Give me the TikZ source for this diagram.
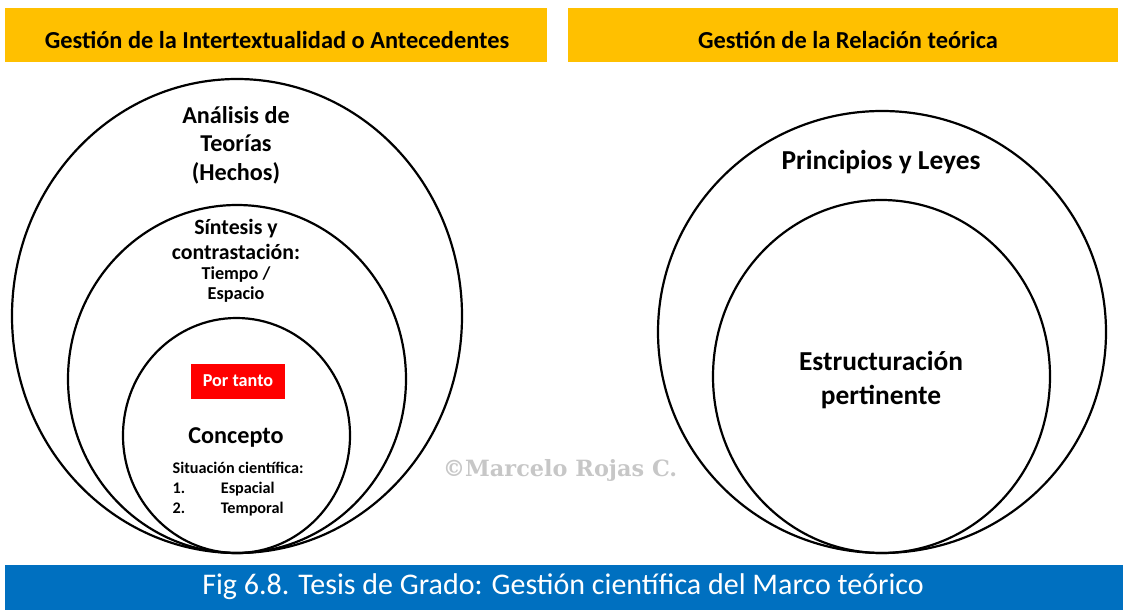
\documentclass[tikz,border=0pt]{standalone}
\usepackage{fontspec}
\setmainfont{Carlito}
\newfontfamily\wmfont{DejaVu Serif}
\usepackage{xcolor}
\usepackage{tikz}
\usetikzlibrary{positioning}

\definecolor{balkengelb}{HTML}{FFC000}
\definecolor{balkenblau}{HTML}{0070C0}
\definecolor{kastenrot}{HTML}{FF0000}

\begin{document}
\begin{tikzpicture}[x=0.5pt, y=-0.5pt, line width=1pt,
    kreis/.style={draw=black, line width=1.1pt},
    gross/.style={font=\bfseries\fontsize{12.1}{14.3}\selectfont, align=center},
    riesig/.style={font=\bfseries\fontsize{13.7}{17}\selectfont, align=center},
    mittel/.style={font=\bfseries\fontsize{10.9}{12.5}\selectfont, align=center},
    klein/.style={font=\bfseries\fontsize{9.1}{10}\selectfont, align=center},
    titel/.style={font=\bfseries\fontsize{12.2}{14}\selectfont}]
\useasboundingbox (0,0) rectangle (1123,610);

% Balken oben
\fill[balkengelb] (5,8) rectangle (547,62);
\fill[balkengelb] (568,8) rectangle (1118,62);
\node[titel] (kopfL) at (277,40) {Gestión de la Intertextualidad o Antecedentes};
\node[titel] (kopfR) at (848,40) {Gestión de la Relación teórica};

% Balken unten
\fill[balkenblau] (5,565) rectangle (1123,610);
\node[text=white, font=\fontsize{15}{18}\selectfont] (fig) at (563,587)
    {Fig 6.8. Tesis de Grado: Gestión científica del Marco teórico};

% Kreise links
\draw[kreis] (237,316) ellipse (225 and 237);
\draw[kreis] (237,379) ellipse (169 and 174);
\draw[kreis] (236.5,435.5) ellipse (113.5 and 117.5);

% Kreise rechts
\draw[kreis] (882,332) ellipse (224 and 221);
\draw[kreis] (881.5,376.5) ellipse (168.5 and 176.5);

% Beschriftungen links
\node[gross] (analisis) at (236,145) {Análisis de\\Teorías\\(Hechos)};
\node[mittel] (sintesis) at (236,239) {Síntesis y\\contrastación:};
\node[klein] (tiempo) at (236,285) {Tiempo /\\Espacio};
\node[fill=kastenrot, text=white, font=\bfseries\fontsize{9.1}{10}\selectfont,
    minimum width=47pt, minimum height=17.5pt] (portanto) at (238,381) {Por tanto};
\node[gross] (concepto) at (236,437) {Concepto};
\node[font=\bfseries\fontsize{8.1}{10}\selectfont, align=left, anchor=north west]
    (situacion) at (165,454)
    {Situación científica:\\
     1.\hspace{2.2em}Espacial\\
     2.\hspace{2.2em}Temporal};

% Wasserzeichen
\node[text=black!22, font=\wmfont\bfseries\fontsize{11.2}{13}\selectfont] (marca) at (560,470)
    {©Marcelo Rojas C.};

% Beschriftungen rechts
\node[riesig] (principios) at (881,162) {Principios y Leyes};
\node[riesig] (estructura) at (881,380) {Estructuración\\pertinente};

\end{tikzpicture}
\end{document}
